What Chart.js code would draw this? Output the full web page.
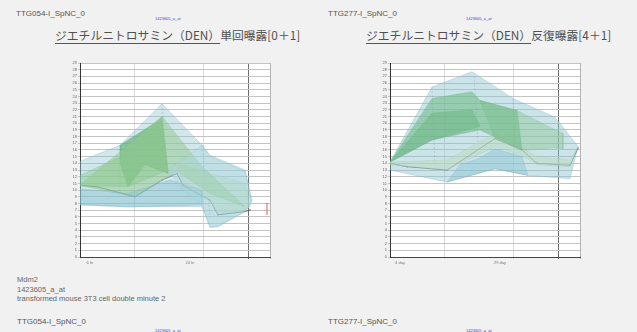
<!DOCTYPE html>
<html>
<head>
<meta charset="utf-8">
<script src="https://cdn.jsdelivr.net/npm/chart.js@4/dist/chart.umd.min.js"></script>
<style>
  body { margin:0; width:637px; height:332px; background:#f1f1f1; position:relative; overflow:hidden;
         font-family:"Liberation Sans", Arial, sans-serif; color:#5a5a5a; }
  .t { position:absolute; white-space:nowrap; line-height:1; }
  .id { font-size:8px; color:#555; }
  .probe { font-size:4px; color:#3b3bd6; }
  .title { font-family:"Noto Sans CJK JP", sans-serif; font-size:11.8px; color:#505050; }
  .title u { text-decoration:underline; text-decoration-color:#555; text-underline-offset:3px; }
  .gene { font-size:7.5px; color:#666; }
  canvas { position:absolute; }
</style>
</head>
<body>
<div class="t id" style="left:16px;top:10px">TTG054-I_SpNC_0</div>
<div class="t probe" style="left:155px;top:17px">1423605_a_at</div>
<div class="t title" style="left:55px;top:29px"><u>ジエチルニトロサミン（DEN）</u>単回曝露[0＋1]</div>

<div class="t id" style="left:328px;top:10px">TTG277-I_SpNC_0</div>
<div class="t probe" style="left:466px;top:17px">1423605_a_at</div>
<div class="t title" style="left:366px;top:29px"><u>ジエチルニトロサミン（DEN）</u>反復曝露[4＋1]</div>

<canvas id="left" width="225" height="215" style="left:50px;top:55px"></canvas>
<canvas id="right" width="225" height="215" style="left:360px;top:55px"></canvas>

<div class="t gene" style="left:17px;top:276px">Mdm2</div>
<div class="t gene" style="left:17px;top:286px">1423605_a_at</div>
<div class="t gene" style="left:17px;top:295px">transformed mouse 3T3 cell double minute 2</div>
<div class="t id" style="left:17px;top:318px">TTG054-I_SpNC_0</div>
<div class="t probe" style="left:155px;top:329px">1423605_a_at</div>
<div class="t id" style="left:328px;top:318px">TTG277-I_SpNC_0</div>
<div class="t probe" style="left:466px;top:329px">1423605_a_at</div>

<script>
// ---- expression bands, single dose panel (x: time position, y: signal) ----
const singleOuterBlue  = [[0,14.3],[4,16.7],[8.2,22.9],[12.2,16.7],[13,15.2],[16.5,13.0],[17.2,8.5],[16.5,6.8],[13.8,4.6],[13,4.4],[12.2,7.5],[8.8,7.6],[4.8,7.5],[0,7.8]];
const singleLowBlue    = [[0,10.2],[4.8,9.5],[9,11.5],[12.2,10],[12.2,7.8],[9,7.6],[4.8,7.5],[0,7.8]];
const singleRightCyan  = [[8.8,13],[12.2,16.7],[13,15],[16.5,12.8],[17.2,8],[16.5,6.8],[13.8,4.5],[13,4.5],[12.2,7.8],[10.3,10]];
const singleGreenTri   = [[0,10.7],[8.2,21],[12.2,13.5],[16.5,7.5],[13,9.5],[9.7,12.8],[5.5,9]];
const singleGreenUpper = [[0,12.2],[4,15],[8.2,21],[8.8,13],[4.8,10.5],[0,10.7]];
const singleDarkGreen  = [[4,16.7],[8.2,20.7],[8.8,12.5],[6.5,13.8],[4.8,10.5],[4,14]];
const singleYellow     = [[9.7,14],[13,12.5],[16.5,11],[17,7.5],[16.5,7],[13.8,6.5],[13,8.5],[10.3,10.7]];
const singleMedian     = [[0,10.7],[1.7,10.5],[5.5,9.0],[8.2,11.5],[9.7,12.5],[10.3,10.7],[13,8.5],[13.8,6.3],[16.5,6.8],[17,7.0]];
const singleDashes     = [[[4,16.7],[4,9.5]],[[8.2,22.9],[8.8,12.5]],[[12.2,16.7],[13,6.2]]];
const singleErrorBar   = [[18.7,8.0],[18.7,6.4]];

// ---- expression bands, repeat dose panel ----
const repeatOuterBlue  = [[0,14.2],[4.2,25.4],[8.2,27.7],[12.3,23.7],[16.5,20.9],[17.3,19.4],[18.8,16.5],[18,11.7],[13.8,12.2],[10.5,13.2],[5.7,11.2],[0,13.0]];
const repeatMidGreen   = [[0,14.2],[4.2,23.7],[8.2,24.7],[9,23.4],[12.7,21.9],[13.2,16.0],[9,19.0],[4.2,17.5]];
const repeatDarkGreen  = [[0,14.2],[4.2,21.5],[8.2,22],[9,19.5],[4.2,17.5]];
const repeatRightGreen = [[9,23.4],[12.7,21.9],[16.5,19],[17.3,18.5],[17.3,16.2],[16.5,16.3],[13.2,16.0],[10.5,17.7]];
const repeatYellow     = [[0,14.2],[5.7,14.5],[10.5,18.5],[13.2,16.3],[14.7,15],[18,14.5],[18.8,16.5],[18,13.5],[14.7,13.8],[13.2,15.2],[10.5,16.5],[5.7,13.0],[0,13.8]];
const repeatLowBlue    = [[5.7,11.2],[7,13.8],[9,14.8],[10.5,16.2],[13.2,15],[13.8,12.2],[10.5,13.2]];
const repeatMedian     = [[0,14.0],[1.7,13.5],[5.7,13.0],[10.5,17.7],[13.2,16.0],[14.7,14.0],[18,13.7],[18.8,16.3]];
const repeatDashes     = [[[4.2,25.4],[4.5,13.5]],[[8.4,27],[8.8,17]],[[12.3,23.7],[12.6,16]]];

// ---- axes ----
const xTickValues   = [1, 5.4, 11, 12.3, 16.8, 19];
const singleXLabels = {1:'6 hr', 11:'24 hr'};
const repeatXLabels = {1:'4 day', 11:'29 day'};
const yMax = 29;

const xGridColor = {1:'rgba(0,0,0,0)', 5.4:'#dadada', 11:'rgba(0,0,0,0)', 12.3:'#dadada', 16.8:'#6e6e6e', 19:'#b5b5b5'};

const pts = a => a.map(([x, y]) => ({x, y}));

function polygon(a, fillColor, edge) {
  const closed = a.concat([a[0]]);
  return { data: pts(closed), fill: 'shape', backgroundColor: fillColor,
           borderColor: edge, borderWidth: 0.6, pointRadius: 0, tension: 0 };
}
function dashLines(segs) {
  return segs.map(s => ({ data: pts(s), fill: false, borderColor: 'rgba(80,80,80,0.4)',
                          borderWidth: 0.7, borderDash: [2, 2], pointRadius: 0 }));
}
function medianLine(a) {
  return { data: pts(a), fill: false, borderColor: 'rgba(60,60,60,0.75)', borderWidth: 1,
           pointRadius: 0.8, pointBackgroundColor: '#777', pointBorderWidth: 0 };
}

const plotBg = {
  id: 'plotBg',
  beforeDraw(chart) {
    const {ctx, chartArea: a} = chart;
    ctx.save();
    ctx.fillStyle = '#ffffff';
    ctx.fillRect(a.left, a.top, a.right - a.left, a.bottom - a.top);
    ctx.restore();
  }
};

function makeChart(id, datasets, xLabels) {
  return new Chart(document.getElementById(id), {
    type: 'line',
    data: { datasets },
    plugins: [plotBg],
    options: {
      responsive: false, animation: false, devicePixelRatio: 1,
      layout: { padding: { left: 10, top: 8, right: 5, bottom: 1 } },
      plugins: { legend: { display: false }, tooltip: { enabled: false } },
      scales: {
        x: {
          type: 'linear', min: 0, max: 19,
          afterBuildTicks: s => { s.ticks = xTickValues.map(v => ({ value: v })); },
          afterFit: s => { s.height = 12; },
          ticks: { autoSkip: false, maxRotation: 0, padding: 1, font: { size: 4 }, color: '#777',
                   callback: v => xLabels[v] || '' },
          grid: { color: c => xGridColor[c.tick ? c.tick.value : 0] || 'rgba(0,0,0,0)', tickLength: 2 },
          border: { color: '#444', width: 1 }
        },
        y: {
          min: 0, max: yMax,
          afterBuildTicks: s => {
            const t = [];
            for (let v = 0; v <= yMax; v++) t.push({ value: v });
            s.ticks = t;
          },
          afterFit: s => { s.width = 20; },
          ticks: { autoSkip: false, font: { size: 4 }, color: '#666', padding: 1 },
          grid: { color: '#c4c4c4', tickLength: 2 },
          border: { color: '#333', width: 1 }
        }
      }
    }
  });
}

makeChart('left', [
  polygon(singleOuterBlue,  'rgba(140,195,208,0.40)', 'rgba(120,175,190,0.55)'),
  polygon(singleRightCyan,  'rgba(185,225,232,0.40)', 'rgba(150,200,210,0.55)'),
  polygon(singleLowBlue,    'rgba(120,185,208,0.40)', 'rgba(110,170,195,0.55)'),
  polygon(singleGreenTri,   'rgba(150,205,95,0.50)',  'rgba(130,180,90,0.55)'),
  polygon(singleGreenUpper, 'rgba(125,200,95,0.45)',  'rgba(120,180,90,0.55)'),
  polygon(singleYellow,     'rgba(215,232,150,0.45)', 'rgba(180,205,120,0.55)'),
  polygon(singleDarkGreen,  'rgba(50,160,50,0.62)',   'rgba(60,140,60,0.6)'),
  ...dashLines(singleDashes),
  medianLine(singleMedian),
  { data: pts(singleErrorBar), fill: false, borderColor: 'rgba(225,110,110,0.6)', borderWidth: 0.8,
    pointStyle: 'line', pointRadius: 1.5, pointBorderColor: 'rgba(225,110,110,0.6)', pointBorderWidth: 0.8 }
], singleXLabels);

makeChart('right', [
  polygon(repeatOuterBlue,  'rgba(140,195,208,0.45)', 'rgba(120,175,190,0.55)'),
  polygon(repeatLowBlue,    'rgba(120,185,210,0.40)', 'rgba(110,170,195,0.55)'),
  polygon(repeatMidGreen,   'rgba(90,180,70,0.58)',   'rgba(90,165,75,0.55)'),
  polygon(repeatRightGreen, 'rgba(140,200,100,0.45)', 'rgba(120,180,90,0.55)'),
  polygon(repeatYellow,     'rgba(225,238,175,0.50)', 'rgba(190,210,140,0.55)'),
  polygon(repeatDarkGreen,  'rgba(50,150,50,0.45)',   'rgba(60,140,60,0.5)'),
  ...dashLines(repeatDashes),
  medianLine(repeatMedian)
], repeatXLabels);
</script>
</body>
</html>
